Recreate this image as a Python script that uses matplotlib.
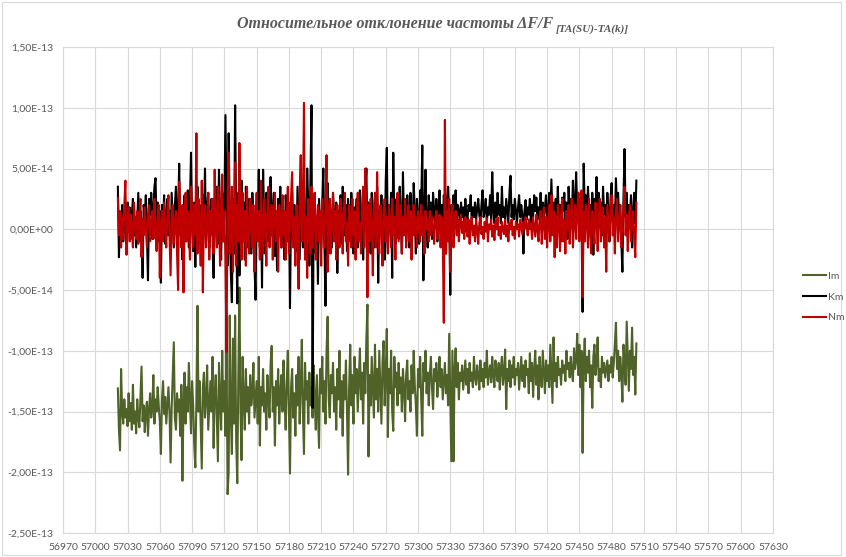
import numpy as np
import matplotlib
matplotlib.use("Agg")
import matplotlib.pyplot as plt
from matplotlib.ticker import FuncFormatter
from matplotlib.patches import Rectangle
from matplotlib.transforms import offset_copy

# first day (MJD) of the series, one value per day, units of 1e-15
mjd_start = 57021

im = [
    -131, -165, -182, -115, -150, -160, -140, -155, -148, -162,
    -135, -158, -143, -165, -128, -160, -150, -168, -140, -155,
    -163, -138, -113, -158, -145, -167, -150, -142, -170, -148,
    -135, -155, -147, -120, -160, -140, -150, -130, -145, -158,
    -185, -140, -125, -152, -138, -160, -145, -130, -150, -192,
    -148, -120, -93, -155, -165, -135, -150, -140, -170, -128,
    -207, -145, -118, -160, -130, -150, -110, -140, -168, -125,
    -145, -178, -196, -140, -63, -150, -125, -160, -197, -130,
    -118, -155, -140, -112, -165, -145, -125, -150, -105, -180,
    -135, -120, -155, -191, -110, -140, -165, -100, -150, -125,
    -170, -95, -218, -200, -71, -155, -185, -90, -160, -71,
    -175, -209, -120, -48, -150, -190, -105, -140, -165, -115,
    -150, -130, -160, -120, -145, -135, -110, -155, -140, -125,
    -160, -105, -178, -130, -145, -115, -150, -135, -165, -120,
    -140, -155, -110, -96, -150, -130, -178, -125, -145, -115,
    -160, -135, -120, -150, -108, -140, -165, -125, -100, -150,
    -201, -130, -115, -155, -135, -170, -120, -145, -105, -160,
    -130, -91, -150, -185, -110, -140, -125, -160, -118, -145,
    -130, -155, -112, -140, -165, -120, -150, -180, -115, -135,
    -105, -150, -125, -160, -100, -72, -140, -155, -120, -135,
    -110, -150, -130, -165, -115, -140, -100, -155, -125, -170,
    -120, -140, -108, -150, -202, -130, -95, -145, -120, -160,
    -105, -135, -115, -150, -125, -98, -140, -118, -160, -110,
    -135, -90, -62, -187, -120, -145, -105, -130, -155, -95,
    -140, -115, -150, -100, -130, -160, -110, -92, -145, -120,
    -82, -171, -115, -135, -100, -150, -166, -105, -130, -118,
    -145, -110, -135, -122, -150, -115, -130, -158, -120, -108,
    -140, -125, -150, -112, -135, -100, -128, -145, -170, -115,
    -130, -105, -140, -170, -110, -125, -100, -135, -118, -145,
    -120, -105, -130, -148, -115, -125, -110, -138, -120, -105,
    -130, -115, -140, -125, -110, -135, -120, -145, -86, -140,
    -191, -100, -191, -115, -98, -130, -110, -140, -118, -125,
    -112, -132, -120, -108, -128, -115, -135, -110, -125, -118,
    -130, -105, -122, -128, -112, -120, -132, -108, -125, -115,
    -130, -110, -122, -100, -128, -118, -112, -126, -105, -120,
    -130, -108, -118, -125, -110, -132, -115, -105, -128, -118,
    -99, -148, -115, -125, -108, -130, -112, -122, -105, -128,
    -115, -120, -110, -132, -118, -105, -125, -112, -130, -108,
    -120, -115, -135, -102, -125, -110, -138, -115, -100, -128,
    -112, -140, -105, -122, -130, -100, -118, -135, -108, -125,
    -112, -130, -95, -120, -143, -89, -125, -110, -130, -105,
    -120, -115, -128, -108, -118, -112, -125, -100, -115, -110,
    -122, -105, -118, -125, -98, -115, -108, -86, -120, -95,
    -130, -100, -184, -110, -90, -125, -105, -118, -100, -130,
    -112, -147, -105, -95, -120, -110, -89, -125, -115, -130,
    -105, -118, -110, -122, -115, -108, -125, -112, -118, -105,
    -122, -110, -95, -77, -115, -100, -125, -105, -118, -142,
    -95, -110, -128, -76, -105, -133, -100, -115, -81, -120,
    -105, -136, -94,
]

km = [
    35, -23, 10, -5, 20, -10, 15, 5, -12, 22,
    0, 18, -8, 12, 25, -5, 10, -15, 8, 30,
    -10, 15, 5, -40, 20, 10, 28, -5, -42, 25,
    12, 30, -8, 18, 35, 42, 5, 22, -10, 15,
    -44, 20, 5, 28, -12, 10, 25, -5, 15, -20,
    30, 8, -15, 20, 35, -8, 12, 54, -5, 18,
    -25, 10, 28, -10, 15, 32, -15, 20, 63, 5,
    -18, 22, -31, 15, 35, -5, 20, 8, -20, 28,
    10, 50, -10, 18, 30, -15, 12, 25, -5, -40,
    20, 8, 35, -12, 49, 5, -25, 30, -10, 15,
    94, 20, -30, 79, 10, -35, -60, 25, -20, 102,
    5, -61, 30, -38, 15, 40, -10, 22, -25, 35,
    8, -15, 25, 12, -20, 30, 5, -30, -58, 20,
    10, 49, -15, 25, -48, 49, 8, -20, 30, 12,
    -10, 20, 43, -5, 15, 30, -22, 10, -34, 25,
    5, 35, -15, 18, 8, -25, 28, 12, -10, 22,
    -65, 15, 30, -5, 20, 10, -18, 35, 5, -25,
    25, 12, -15, 30, 8, -10, 50, 20, -30, 40,
    102, -147, 15, 30, -20, 10, -45, 25, 5, -15,
    20, 50, -10, -63, 15, 38, -20, 25, 5, -15,
    30, 10, -8, 22, -36, 15, 5, 28, -12, 35,
    10, -5, 20, -18, 25, 8, -10, 30, 12, -20,
    18, 5, 25, -15, 10, 32, -8, 20, -25, 15,
    28, 50, -10, 22, 5, -20, 30, 10, -15, 25,
    8, 35, -44, 15, 5, 28, -10, 20, -25, 40,
    67, -15, 20, 5, 30, -40, 63, 10, -12, 25,
    15, -8, 35, 10, -20, 47, 5, 20, -10, 28,
    12, -15, 30, 8, -5, 38, 15, -20, 25, 10,
    -12, 32, 20, 69, -42, 15, 49, 5, -15, 28,
    10, 22, -8, 30, 15, 5, 25, -10, 18, 32,
    8, 20, -5, 28, 12, -20, 25, 35, 10, -54,
    20, 5, 28, 12, 32, 8, 20, 15, 5, 22,
    10, 18, 5, 25, 12, 8, 20, 15, 28, 5,
    18, 10, 22, 8, 16, 25, 12, 5, 20, 32,
    10, 15, 25, 5, 18, 12, 28, 8, 47, 15,
    5, 22, 10, 30, 12, 20, 5, 35, 10, 18,
    8, 25, 15, 5, 30, 44, 10, 20, 8, 25,
    15, 5, 18, 28, 10, 20, 12, -20, 15, 24,
    8, 18, 12, 25, 5, 20, 10, 28, 15, 26,
    8, 18, 12, 30, 5, 22, 10, 18, 28, 5,
    15, 30, 8, 41, 10, 22, -5, 25, 12, 35,
    5, 20, -10, 26, 15, 30, 8, 22, -8, 35,
    12, 25, 5, 40, 10, 20, 47, 15, 30, -5,
    25, 10, -68, 54, 15, 28, 5, 35, 12, 20,
    -10, 30, -21, 25, 10, 43, 5, 30, 16, 22,
    -5, 35, 12, 20, 8, 30, 15, -10, 25, 38,
    10, 20, 5, 42, 15, 30, 8, 20, -10, -35,
    25, 66, 10, 30, -5, 20, 12, 28, -15, 15,
    30, 5, 40,
]

nm = [
    26, -5, 15, -15, 10, -8, 20, 40, -21, 5,
    18, -10, 12, 0, -15, 22, 5, -8, 15, -12,
    10, 25, -23, 8, -5, 18, 2, -15, 12, 20,
    -10, 5, 15, -8, 25, 0, -18, 10, 20, -40,
    5, 15, -10, 22, 0, -15, 12, 28, -5, -38,
    10, 20, -12, 5, 15, -20, -50, 39, 10, -15,
    20, -52, 8, 30, -10, 15, 0, -25, 35, 10,
    -15, 20, -5, 79, -20, 25, 5, -30, 40, -52,
    10, 20, -15, 5, 30, -25, 15, -5, 25, -20,
    49, 0, -15, 35, 10, -30, 20, 45, -10, 15,
    -25, -101, 30, 63, -20, 10, 35, -35, 5, 55,
    -30, 20, -10, 71, 5, -25, 30, -10, 15, -30,
    35, 0, -20, 25, 10, -15, 20, -35, 5, 30,
    -10, 15, -25, 40, 0, -20, 25, 10, -30, 15,
    35, -15, 5, 20, -25, 10, 30, -10, 15, -35,
    20, 5, -15, 28, -5, 15, -25, 10, 35, -20,
    5, 25, 47, -15, 10, -30, 20, 5, -49, 30,
    61, -10, 15, 104, -25, 10, -40, 25, 0, -20,
    35, -15, 10, 30, -25, 5, 20, -10, 15, -30,
    25, 5, -15, 20, 61, -35, 10, 25, -20, 5,
    30, -10, 15, -25, 20, 0, -15, 25, 10, -20,
    15, 30, -10, 5, -30, 20, 10, -15, 25, -5,
    15, -25, 10, 30, -10, 5, -20, 20, 35, -15,
    50, 10, -56, 20, -10, 25, 5, -38, 15, 30,
    -15, 47, 0, -20, 20, 5, -30, 15, 25, -10,
    10, -20, 20, 5, -15, 25, -5, 10, -25, 15,
    30, -10, 5, 20, -20, 10, -5, 25, -15, 5,
    20, -10, 15, -25, 5, 20, -5, 10, -15, 15,
    5, -10, 20, -5, 10, -20, 15, 0, 8, -10,
    15, -5, 10, 2, -12, 8, 15, -8, 5, 12,
    -15, 10, -5, -77, 90, -20, 15, -10, 25, -35,
    10, 20, -15, 5, 15, -5, 8, -10, 5, 12,
    -3, 6, -8, 10, 0, -6, 8, -12, 4, 10,
    -5, 3, -10, 8, 0, -12, 5, 10, -4, 2,
    -8, 6, -2, 9, -10, 4, 0, 8, -6, 3,
    -9, 5, 0, 10, -5, 2, -8, 6, 0, -4,
    8, -6, 3, -10, 5, 0, 8, -5, 2, -8,
    6, 0, 4, -6, 8, 2, -4, 6, 0, 10,
    3, -5, 8, 0, 5, -8, 10, 2, -6, 12,
    0, -10, 8, 15, -12, 5, 18, -8, 10, -15,
    5, 20, -10, 28, -5, 15, -23, 10, -15, 20,
    5, -18, 12, 25, -10, 8, -20, 15, 0, 20,
    -12, 10, 25, -15, 5, 20, -8, 15, 30, -10,
    5, 32, -56, 15, -10, 20, 5, -15, 25, 0,
    -20, 15, 5, -12, 22, 8, -18, 10, 25, -10,
    5, 18, -15, 10, -35, 20, 5, -10, 15, 28,
    -5, 10, -20, 15, 25, -10, 5, 20, -15, 8,
    15, 35, -5, 12, -18, 10, 20, -10, 5, 15,
    -8, -23, 22,
]

series_names = ['Im', 'Km', 'Nm']
series_colors = ['#4f6228', '#000000', '#c00000']

x_ticks = list(range(56970, 57631, 30))
y_ticks = [1.5e-13, 1.0e-13, 5.0e-14, 0.0, -5.0e-14, -1.0e-13, -1.5e-13, -2.0e-13, -2.5e-13]


def sci_comma(v, pos):
    if abs(v) < 1e-20:
        v = 0.0
    return f"{v:.2E}".replace('.', ',')


fig = plt.figure(figsize=(8.46, 5.57), dpi=100)
ax = fig.add_axes([63/846, 1-533/557, 710/846, 486/557])

for vals, name, col in zip([im, km, nm], series_names, series_colors):
    days = np.arange(mjd_start, mjd_start + len(vals))
    ax.plot(days, np.array(vals) * 1e-15, color=col, lw=1.5, label=name)

ax.set_xlim(56970, 57630)
ax.set_ylim(-2.5e-13, 1.5e-13)
ax.set_xticks(x_ticks)
ax.set_yticks(y_ticks)
ax.yaxis.set_major_formatter(FuncFormatter(sci_comma))

ax.grid(True, color='#d9d9d9', lw=0.8)
ax.set_axisbelow(True)
for s in ax.spines.values():
    s.set_color('#d9d9d9')
    s.set_linewidth(0.8)
ax.tick_params(length=0, labelsize=7.5, labelcolor='#595959', pad=7)
for lab in ax.get_xticklabels() + ax.get_yticklabels():
    lab.set_family('Lato')

# title with subscript, drawn as two texts
title = fig.text(237/846, 1-28/557, 'Относительное отклонение частоты ΔF/F',
                 ha='left', va='baseline', fontsize=11.5, family='Liberation Serif',
                 fontweight='bold', style='italic', color='#595959')
fig.canvas.draw()
bb = title.get_window_extent()
sub_tr = offset_copy(fig.transFigure, fig=fig, x=2, y=-3, units='points')
fig.text(bb.x1 / fig.bbox.width, 1-28/557, '[TA(SU)-TA(k)]', transform=sub_tr,
         ha='left', va='baseline', fontsize=8, family='Liberation Serif',
         fontweight='bold', style='italic', color='#595959')

fig.legend(loc='center left', bbox_to_anchor=(794/846, 1-297/557), frameon=False,
           labelcolor='#595959', handlelength=2.2, handletextpad=0.2,
           borderaxespad=0.5, borderpad=0.4,
           labelspacing=1.1, prop={'family': 'Lato', 'size': 7.5})

fig.patches.append(Rectangle((0.002, 0.004), 0.992, 0.992, transform=fig.transFigure,
                             fill=False, edgecolor='#d9d9d9', lw=0.8))

fig.savefig('out.png', dpi=100)
